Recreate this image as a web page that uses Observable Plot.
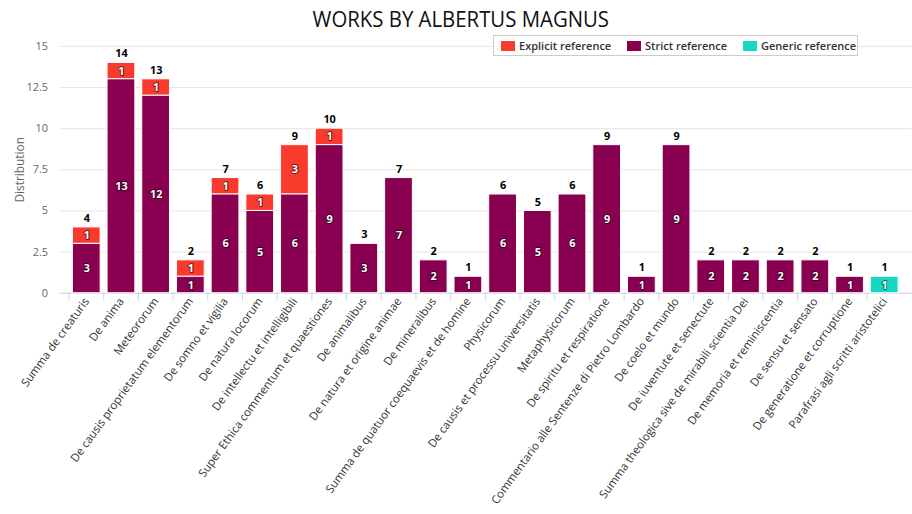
<!DOCTYPE html>
<html>
<head>
<meta charset="utf-8">
<script src="https://cdn.jsdelivr.net/npm/d3@7"></script>
<script src="https://cdn.jsdelivr.net/npm/@observablehq/plot@0.6"></script>
<style>
  html, body { margin: 0; padding: 0; background: #fff; overflow: hidden; }
  #wrap { position: relative; width: 912px; height: 514px; overflow: hidden; font-family: "Open Sans", sans-serif; }
  #title { height: 36px; line-height: 38px; text-align: center; font-size: 21px; color: #111; padding-left: 10px; }
  #title span { display: inline-block; transform: scaleX(0.97); }
  #legend { position: absolute; left: 493px; top: 35px; width: 363px; height: 19px; border: 1px solid #ccc; background: #fff;
            font-size: 11px; font-weight: 600; color: #333; white-space: nowrap; }
  .item { position: absolute; top: 0; height: 19px; display: flex; align-items: center; white-space: nowrap; }
  .sw { width: 14px; height: 10px; margin-right: 4px; flex: none; }
</style>
</head>
<body>
<div id="wrap">
  <div id="title"><span>WORKS BY ALBERTUS MAGNUS</span></div>
  <div id="legend"></div>
  <div id="chart"></div>
</div>
<script>
const categories = [
  "Summa de creaturis",
  "De anima",
  "Meteororum",
  "De causis proprietatum elementorum",
  "De somno et vigilia",
  "De natura locorum",
  "De intellectu et intelligibili",
  "Super Ethica commentum et quaestiones",
  "De animalibus",
  "De natura et origine animae",
  "De mineralibus",
  "Summa de quatuor coequaevis et de homine",
  "Physicorum",
  "De causis et processu universitatis",
  "Metaphysicorum",
  "De spiritu et respiratione",
  "Commentario alle Sentenze di Pietro Lombardo",
  "De coelo et mundo",
  "De iuventute et senectute",
  "Summa theologica sive de mirabili scientia Dei",
  "De memoria et reminiscentia",
  "De sensu et sensato",
  "De generatione et corruptione",
  "Parafrasi agli scritti aristotelici"
];
const explicitRef = [1,1,1,1,1,1,3,1,0,0,0,0,0,0,0,0,0,0,0,0,0,0,0,0];
const strictRef   = [3,13,12,1,6,5,6,9,3,7,2,1,6,5,6,9,1,9,2,2,2,2,1,0];
const genericRef  = [0,0,0,0,0,0,0,0,0,0,0,0,0,0,0,0,0,0,0,0,0,0,0,1];
const seriesNames = ["Explicit reference", "Strict reference", "Generic reference"];
const seriesColors = ["#f93b2d", "#8a0050", "#14d8c2"];
const stackOrder = ["Strict reference", "Explicit reference", "Generic reference"];
const yTicks = [0, 2.5, 5, 7.5, 10, 12.5, 15];

const seriesValues = [explicitRef, strictRef, genericRef];
const rows = [];
categories.forEach((c, i) => {
  seriesNames.forEach((s, k) => {
    const v = seriesValues[k][i];
    if (v > 0) rows.push({category: c, series: s, value: v});
  });
});
const totals = categories.map((c, i) => ({category: c, total: explicitRef[i] + strictRef[i] + genericRef[i]}));

const W = 920, ML = 60;
const step = (W - ML) / (categories.length - 0.19 + 0.2);

const chart = Plot.plot({
  width: W,
  height: 478,
  marginLeft: ML,
  marginRight: 0,
  marginTop: 10,
  marginBottom: 219,
  style: {fontFamily: "'Open Sans', sans-serif", background: "transparent", overflow: "visible"},
  x: {domain: categories, paddingInner: 0.19, paddingOuter: 0.1, label: null},
  y: {domain: [0, 15], label: null},
  color: {domain: seriesNames, range: seriesColors},
  marks: [
    Plot.gridY(yTicks, {stroke: "#e6e6e6", strokeOpacity: 1}),
    Plot.axisY(yTicks, {tickSize: 0, tickPadding: 12, fontSize: 11, fill: "#666", tickFormat: d => String(d), label: null}),
    Plot.axisY({tickSize: 0, ticks: [], fontSize: 12, fill: "#666",
      label: "Distribution", labelAnchor: "center", labelArrow: "none", labelOffset: 45}),
    Plot.ruleY([0], {stroke: "#ccd6eb"}),
    Plot.axisX({tickSize: 8, tickFormat: () => "", dx: -step / 2, stroke: "#ccd6eb", strokeOpacity: 1, label: null}),
    Plot.axisX({tickSize: 0, tickPadding: 6, tickRotate: -54, fontSize: 11.5, fill: "#333", label: null}),
    Plot.barY(rows, {x: "category", y: "value", fill: "series", z: "series", order: stackOrder, stroke: "#fff", strokeWidth: 1}),
    Plot.text(rows, Plot.stackY({x: "category", y: "value", z: "series", order: stackOrder, text: d => String(d.value),
      fill: "#fff", stroke: "#000", strokeWidth: 2, strokeOpacity: 0.55, paintOrder: "stroke", fontSize: 11, fontWeight: "bold"})),
    Plot.text(totals, {x: "category", y: "total", text: d => String(d.total), dy: -9, fontSize: 11, fontWeight: "bold", fill: "#000"})
  ]
});
document.getElementById("chart").appendChild(chart);

const legend = document.getElementById("legend");
const itemLeft = [7, 133, 249];
seriesNames.forEach((s, k) => {
  const it = document.createElement("div");
  it.className = "item";
  it.style.left = itemLeft[k] + "px";
  const sw = document.createElement("div");
  sw.className = "sw";
  sw.style.background = seriesColors[k];
  const t = document.createElement("span");
  t.textContent = s;
  it.appendChild(sw);
  it.appendChild(t);
  legend.appendChild(it);
});
</script>
</body>
</html>
